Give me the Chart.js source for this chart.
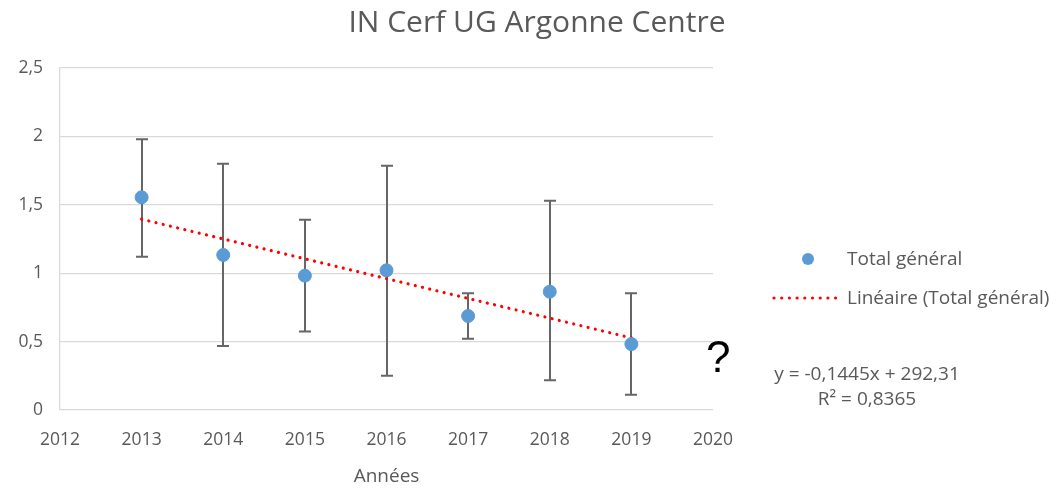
<!DOCTYPE html>
<html><head><meta charset="utf-8">
<script src="https://cdn.jsdelivr.net/npm/chart.js@4/dist/chart.umd.min.js"></script>
<style>html,body{margin:0;padding:0;background:#fff}</style>
</head><body>
<canvas id="c" width="1057" height="496"></canvas>
<script>
const chartTitle = "IN Cerf UG Argonne Centre";
const xAxisTitle = "Années";
const years = [2013, 2014, 2015, 2016, 2017, 2018, 2019];
const totals = [1.555, 1.133, 0.982, 1.021, 0.687, 0.865, 0.482];
const errHigh = [1.979, 1.800, 1.391, 1.786, 0.853, 1.530, 0.853];
const errLow = [1.121, 0.468, 0.573, 0.251, 0.521, 0.217, 0.112];
const xTicks = [2012, 2013, 2014, 2015, 2016, 2017, 2018, 2019, 2020];
const yTicks = [0, 0.5, 1, 1.5, 2, 2.5];
const seriesLabel = "Total général";
const trendLabel = "Linéaire (Total général)";
const equationText = "y = -0,1445x + 292,31";
const r2Text = "R² = 0,8365";

// least-squares trendline from the data
const n = years.length;
const mx = years.reduce((a,b)=>a+b,0)/n, my = totals.reduce((a,b)=>a+b,0)/n;
let sxy=0, sxx=0;
for (let i=0;i<n;i++){ sxy+=(years[i]-mx)*(totals[i]-my); sxx+=(years[i]-mx)**2; }
const slope = sxy/sxx, icpt = my - slope*mx;
const trendX = [years[0], years[n-1]];
const trendData = trendX.map(x=>({x, y: slope*x+icpt}));

const TXT = '#595959';
const FONT = '"Open Sans", sans-serif';

const decor = {
  id: 'decor',
  beforeDatasetsDraw(chart){
    const {ctx, scales:{x, y}} = chart;
    ctx.save();
    ctx.strokeStyle = '#666666';
    ctx.lineWidth = 2;
    for (let i=0;i<n;i++){
      const px = Math.round(x.getPixelForValue(years[i]));
      const t = y.getPixelForValue(errHigh[i]), b = y.getPixelForValue(errLow[i]);
      ctx.beginPath();
      ctx.moveTo(px, t); ctx.lineTo(px, b);
      ctx.moveTo(px-6, t); ctx.lineTo(px+6, t);
      ctx.moveTo(px-6, b); ctx.lineTo(px+6, b);
      ctx.stroke();
    }
    ctx.restore();
  },
  afterDraw(chart){
    const {ctx, chartArea} = chart;
    ctx.save();
    ctx.fillStyle = TXT;
    ctx.textAlign = 'center';
    ctx.textBaseline = 'alphabetic';
    ctx.font = '30px ' + FONT;
    ctx.fillText(chartTitle, 537, 32);
    ctx.font = '19px ' + FONT;
    ctx.fillText(xAxisTitle, (chartArea.left+chartArea.right)/2, 482);
    // legend
    ctx.textAlign = 'left';
    ctx.fillText(seriesLabel, 847, 265);
    ctx.fillText(trendLabel, 847, 304);
    ctx.fillStyle = '#5B9BD5';
    ctx.beginPath(); ctx.arc(808, 259, 6, 0, Math.PI*2); ctx.fill();
    ctx.fillStyle = '#FF0000';
    for (let xx=774; xx<=836; xx+=7.7){ ctx.beginPath(); ctx.arc(xx, 298, 1.6, 0, Math.PI*2); ctx.fill(); }
    // equation
    ctx.fillStyle = TXT;
    ctx.textAlign = 'center';
    ctx.fillText(equationText, 867, 380);
    ctx.fillText(r2Text, 867, 405);
    // question mark
    ctx.fillStyle = '#000000';
    ctx.font = '44px "Liberation Sans", Arial, sans-serif';
    ctx.textAlign = 'left';
    ctx.fillText('?', 706, 372);
    ctx.restore();
  }
};

new Chart(document.getElementById('c'), {
  type: 'scatter',
  data: {
    datasets: [
      { label: seriesLabel, data: years.map((x,i)=>({x, y: totals[i]})),
        backgroundColor: '#5B9BD5', borderColor: '#5B9BD5', pointRadius: 6.5, pointHoverRadius: 6.5, order: 0 },
      { label: trendLabel, type: 'line', data: trendData, showLine: true, fill: false,
        borderColor: '#FF0000', borderWidth: 3.2, borderDash: [0.01, 7.4], borderCapStyle: 'round',
        pointRadius: 0, order: 1 }
    ]
  },
  options: {
    responsive: false, animation: false, devicePixelRatio: 1,
    layout: { padding: { top: 68, right: 344, left: 0, bottom: 0 } },
    plugins: { legend: { display: false }, title: { display: false }, tooltip: { enabled: false } },
    scales: {
      x: { type: 'linear', min: 2012, max: 2020,
        afterBuildTicks: s => { s.ticks = xTicks.map(v=>({value:v})); },
        afterFit: s => { s.height = 86; },
        grid: { display: false, drawTicks: false },
        border: { display: false },
        ticks: { color: TXT, font: { family: FONT, size: 17.5 }, padding: 20, callback: v => String(v) } },
      y: { type: 'linear', min: 0, max: 2.5,
        afterBuildTicks: s => { s.ticks = yTicks.map(v=>({value:v})); },
        afterFit: s => { s.width = 60; },
        grid: { color: '#D9D9D9', lineWidth: 1.3, drawTicks: false },
        border: { display: true, color: '#D9D9D9', width: 1.3 },
        ticks: { color: TXT, font: { family: FONT, size: 17.5 }, padding: 17, callback: v => String(v).replace('.', ',') } }
    }
  },
  plugins: [decor]
});
</script>
</body></html>
